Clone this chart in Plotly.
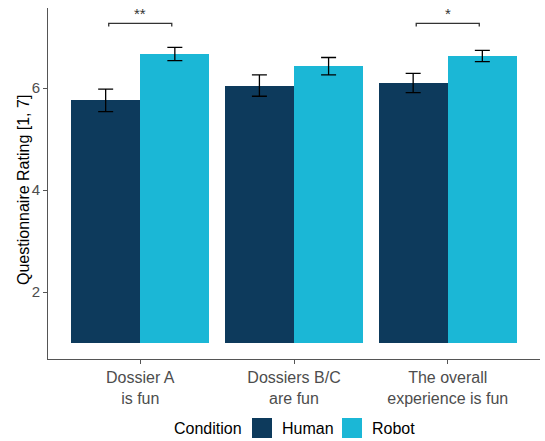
import plotly.graph_objects as go

categories = ["Dossier A<br>is fun", "Dossiers B/C<br>are fun", "The overall<br>experience is fun"]
human_mean = [5.76, 6.05, 6.10]
human_se = [0.22, 0.21, 0.19]
robot_mean = [6.67, 6.43, 6.63]
robot_se = [0.13, 0.17, 0.11]
sig_groups = [0, 2]
sig_labels = ["**", "*"]
sig_height = 7.27
y_title = "Questionnaire Rating [1, 7]"

HUMAN = "#0D3A5C"
ROBOT = "#1BB7D6"
BW = 0.45
idx = list(range(len(categories)))

W, H = 545, 441
ML, MR, MT, MB = 48, 5, 8, 82
PW, PH = W - ML - MR, H - MT - MB


def px(x):
    return (x - ML) / PW


def py(y):
    return (H - MB - y) / PH


fig = go.Figure()
for name, means, ses, color, off in [("Human", human_mean, human_se, HUMAN, -BW / 2),
                                     ("Robot", robot_mean, robot_se, ROBOT, BW / 2)]:
    xs = [i + off for i in idx]
    fig.add_trace(go.Bar(
        x=xs, y=[m - 1 for m in means], base=1, width=BW, name=name,
        marker=dict(color=color, line=dict(width=0)), showlegend=False,
    ))
    fig.add_trace(go.Scatter(
        x=xs, y=means, mode="markers", marker=dict(size=0.1, color="rgba(0,0,0,0)"),
        showlegend=False, hoverinfo="skip",
        error_y=dict(type="data", array=ses, color="black", thickness=1.3, width=7.5),
    ))

for g, lab in zip(sig_groups, sig_labels):
    x0, x1 = g - 0.205, g + 0.205
    tip = sig_height - 0.065
    fig.add_shape(type="path",
                  path=f"M {x0},{tip} L {x0},{sig_height} L {x1},{sig_height} L {x1},{tip}",
                  line=dict(color="#333333", width=1.3), xref="x", yref="y")
    fig.add_annotation(x=g, y=7.47, text=lab, showarrow=False,
                       yanchor="middle", font=dict(size=15, color="#333333"))

# y-axis title
fig.add_annotation(xref="paper", yref="paper", x=px(23), y=py(190), text=y_title,
                   textangle=-90, showarrow=False, xanchor="center", yanchor="middle",
                   font=dict(size=16, color="black"))

# manual legend (ggplot-style big keys)
ly = 428
fig.add_annotation(xref="paper", yref="paper", x=px(244), y=py(ly), text="Condition",
                   showarrow=False, xanchor="right", yanchor="middle",
                   font=dict(size=16, color="black"))
for name, color, kx in [("Human", HUMAN, 252), ("Robot", ROBOT, 342)]:
    fig.add_shape(type="rect", xref="paper", yref="paper",
                  x0=px(kx), x1=px(kx + 20), y0=py(ly - 10), y1=py(ly + 10),
                  fillcolor=color, line=dict(width=0))
    fig.add_annotation(xref="paper", yref="paper", x=px(kx + 28), y=py(ly), text=name,
                       showarrow=False, xanchor="left", yanchor="middle",
                       font=dict(size=16, color="black"))

fig.update_layout(
    width=W, height=H,
    margin=dict(l=ML, r=MR, t=MT, b=MB),
    paper_bgcolor="white", plot_bgcolor="white",
    font=dict(family="Liberation Sans, Arial, sans-serif", color="#4D4D4D", size=15),
    bargap=0,
    showlegend=False,
)
fig.update_xaxes(
    range=[-0.6, 2.6], tickvals=idx, ticktext=categories, automargin=False,
    showline=True, linecolor="#555555", linewidth=1, ticks="outside", ticklen=4,
    tickcolor="#555555", showgrid=False, zeroline=False,
    tickfont=dict(size=16, color="#4D4D4D"),
)
fig.update_yaxes(
    range=[0.69, 7.57], tickvals=[2, 4, 6], automargin=False,
    showline=True, linecolor="#555555", linewidth=1, ticks="outside", ticklen=4,
    tickcolor="#555555", showgrid=False, zeroline=False,
    tickfont=dict(size=15, color="#4D4D4D"),
)
fig.write_html("out.html", config={"displayModeBar": False},
               post_script="document.body.style.margin='0';")
